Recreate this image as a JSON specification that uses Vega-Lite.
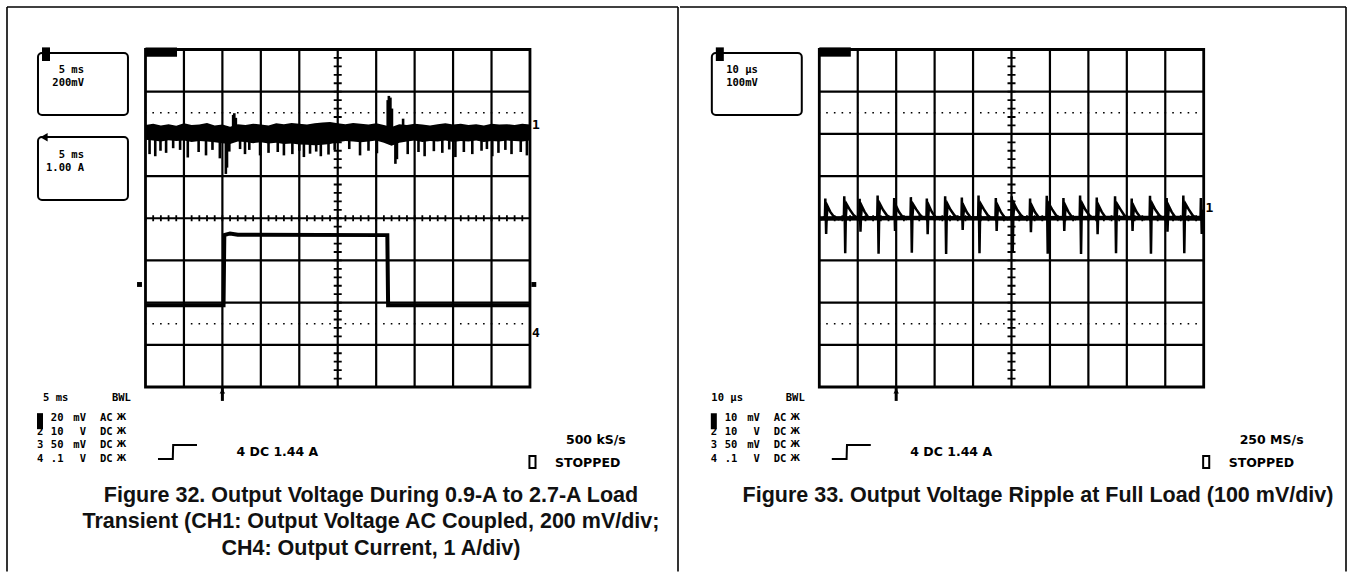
{
  "$schema": "https://vega.github.io/schema/vega-lite/v6.json",
  "background": "white",
  "padding": {"left": 6, "top": 6, "right": 6, "bottom": 0},
  "spacing": 0,
  "config": {"view": {"stroke": null}},
  "datasets": {
    "ch1L_band": [{"t":0,"v":2.21,"v2":1.86},{"t":1,"v":2.24,"v2":1.84},{"t":2,"v":2.20,"v2":1.82},{"t":3,"v":2.23,"v2":1.85},{"t":4,"v":2.19,"v2":1.83},{"t":5,"v":2.25,"v2":1.84},{"t":6,"v":2.21,"v2":1.81},{"t":7,"v":2.22,"v2":1.83},{"t":8,"v":2.26,"v2":1.82},{"t":9,"v":2.20,"v2":1.80},{"t":10,"v":2.22,"v2":1.78},{"t":11,"v":2.17,"v2":1.76},{"t":12,"v":2.23,"v2":1.82},{"t":13,"v":2.21,"v2":1.81},{"t":14,"v":2.24,"v2":1.78},{"t":15,"v":2.22,"v2":1.80},{"t":16,"v":2.20,"v2":1.77},{"t":17,"v":2.25,"v2":1.79},{"t":18,"v":2.23,"v2":1.76},{"t":19,"v":2.26,"v2":1.77},{"t":20,"v":2.24,"v2":1.75},{"t":21,"v":2.22,"v2":1.74},{"t":22,"v":2.25,"v2":1.73},{"t":23,"v":2.27,"v2":1.74},{"t":24,"v":2.28,"v2":1.76},{"t":25,"v":2.25,"v2":1.80},{"t":26,"v":2.23,"v2":1.83},{"t":27,"v":2.26,"v2":1.82},{"t":28,"v":2.24,"v2":1.80},{"t":29,"v":2.22,"v2":1.82},{"t":30,"v":2.25,"v2":1.84},{"t":31,"v":2.21,"v2":1.79},{"t":32,"v":2.16,"v2":1.72},{"t":33,"v":2.23,"v2":1.79},{"t":34,"v":2.21,"v2":1.82},{"t":35,"v":2.24,"v2":1.84},{"t":36,"v":2.22,"v2":1.81},{"t":37,"v":2.20,"v2":1.83},{"t":38,"v":2.23,"v2":1.82},{"t":39,"v":2.25,"v2":1.84},{"t":40,"v":2.22,"v2":1.81},{"t":41,"v":2.24,"v2":1.83},{"t":42,"v":2.21,"v2":1.82},{"t":43,"v":2.23,"v2":1.84},{"t":44,"v":2.20,"v2":1.81},{"t":45,"v":2.24,"v2":1.83},{"t":46,"v":2.22,"v2":1.82},{"t":47,"v":2.23,"v2":1.84},{"t":48,"v":2.21,"v2":1.83},{"t":49,"v":2.24,"v2":1.82},{"t":50,"v":2.22,"v2":1.84}],
    "ch1L_spikes": [{"t":0.53,"v":1.9,"v2":1.52},{"t":1.27,"v":1.9,"v2":1.47},{"t":1.95,"v":1.9,"v2":1.60},{"t":2.68,"v":1.9,"v2":1.55},{"t":3.6,"v":1.9,"v2":1.66},{"t":4.5,"v":1.9,"v2":1.62},{"t":5.5,"v":1.9,"v2":1.44},{"t":6.91,"v":1.9,"v2":1.57},{"t":7.87,"v":1.9,"v2":1.49},{"t":8.71,"v":1.9,"v2":1.62},{"t":9.67,"v":1.9,"v2":1.42},{"t":10.45,"v":1.9,"v2":1.05},{"t":10.6,"v":1.9,"v2":1.2},{"t":10.9,"v":1.9,"v2":1.58},{"t":12.3,"v":1.9,"v2":1.64},{"t":12.94,"v":1.9,"v2":1.52},{"t":13.5,"v":1.9,"v2":1.62},{"t":14.9,"v":1.9,"v2":1.49},{"t":16.0,"v":1.9,"v2":1.55},{"t":17.2,"v":1.9,"v2":1.57},{"t":18.0,"v":1.9,"v2":1.49},{"t":19.1,"v":1.9,"v2":1.52},{"t":20.0,"v":1.9,"v2":1.6},{"t":20.6,"v":1.9,"v2":1.45},{"t":21.4,"v":1.9,"v2":1.53},{"t":22.2,"v":1.9,"v2":1.58},{"t":22.8,"v":1.9,"v2":1.47},{"t":23.8,"v":1.9,"v2":1.51},{"t":24.6,"v":1.9,"v2":1.62},{"t":26.5,"v":1.9,"v2":1.64},{"t":27.9,"v":1.9,"v2":1.49},{"t":29.0,"v":1.9,"v2":1.60},{"t":30.1,"v":1.9,"v2":1.54},{"t":32.5,"v":1.9,"v2":1.29},{"t":32.7,"v":1.9,"v2":1.4},{"t":34.1,"v":1.9,"v2":1.52},{"t":35.5,"v":1.9,"v2":1.57},{"t":36.3,"v":1.9,"v2":1.47},{"t":37.5,"v":1.9,"v2":1.59},{"t":38.6,"v":1.9,"v2":1.55},{"t":39.5,"v":1.9,"v2":1.63},{"t":40.3,"v":1.9,"v2":1.45},{"t":41.4,"v":1.9,"v2":1.57},{"t":42.5,"v":1.9,"v2":1.52},{"t":43.7,"v":1.9,"v2":1.60},{"t":44.4,"v":1.9,"v2":1.64},{"t":45.1,"v":1.9,"v2":1.47},{"t":45.9,"v":1.9,"v2":1.55},{"t":46.8,"v":1.9,"v2":1.62},{"t":47.6,"v":1.9,"v2":1.52},{"t":48.8,"v":1.9,"v2":1.57},{"t":49.6,"v":1.9,"v2":1.49},{"t":11.4,"v":2.1,"v2":2.45},{"t":11.55,"v":2.1,"v2":2.49},{"t":11.75,"v":2.1,"v2":2.38},{"t":31.5,"v":2.1,"v2":2.80},{"t":31.65,"v":2.1,"v2":2.90},{"t":31.85,"v":2.1,"v2":2.86},{"t":32.05,"v":2.1,"v2":2.60},{"t":33.5,"v":2.1,"v2":2.36}],
    "ch4L": [{"t":0,"v":-2.06},{"t":10.15,"v":-2.06},{"t":10.25,"v":-0.40},{"t":11.0,"v":-0.36},{"t":12.0,"v":-0.39},{"t":31.45,"v":-0.40},{"t":31.55,"v":-2.06},{"t":50,"v":-2.06}],
    "ch1R_band": [{"t":0,"v":0.05,"v2":-0.06},{"t":25,"v":0.06,"v2":-0.05},{"t":50,"v":0.05,"v2":-0.06},{"t":75,"v":0.06,"v2":-0.05},{"t":100,"v":0.06,"v2":-0.06}],
    "ch1R": [
      {"t":0,"v":0.01},{"t":0.6,"v":-0.02},
      {"t":1.21,"v":0.02},{"t":1.46,"v":0.0},{"t":1.56,"v":0.47},{"t":1.68,"v":0.05},{"t":1.78,"v":-0.37},{"t":1.91,"v":0.02},{"t":2.16,"v":0.28},{"t":2.86,"v":0.15},{"t":3.76,"v":0.04},
      {"t":5.0,"v":-0.02},
      {"t":6.14,"v":0.03},{"t":6.39,"v":0.0},{"t":6.49,"v":0.52},{"t":6.61,"v":0.08},{"t":6.74,"v":-0.83},{"t":6.89,"v":0.02},{"t":7.14,"v":0.33},{"t":7.89,"v":0.21},{"t":8.89,"v":0.08},{"t":9.69,"v":0.02},
      {"t":10.14,"v":0.0},{"t":10.39,"v":-0.02},{"t":10.49,"v":0.46},{"t":10.61,"v":0.05},{"t":10.71,"v":-0.32},{"t":10.84,"v":0.02},{"t":11.09,"v":0.28},{"t":11.79,"v":0.15},{"t":12.69,"v":0.03},
      {"t":13.9,"v":-0.02},
      {"t":14.82,"v":0.02},{"t":15.07,"v":0.0},{"t":15.17,"v":0.54},{"t":15.29,"v":0.08},{"t":15.42,"v":-0.84},{"t":15.57,"v":0.02},{"t":15.82,"v":0.33},{"t":16.57,"v":0.20},{"t":17.57,"v":0.07},{"t":18.37,"v":0.01},
      {"t":19.13,"v":0.01},{"t":19.38,"v":-0.01},{"t":19.48,"v":0.48},{"t":19.60,"v":0.05},{"t":19.70,"v":-0.30},{"t":19.83,"v":0.02},{"t":20.08,"v":0.27},{"t":20.78,"v":0.14},{"t":21.68,"v":0.03},
      {"t":22.6,"v":-0.02},
      {"t":23.47,"v":0.02},{"t":23.72,"v":0.0},{"t":23.82,"v":0.50},{"t":23.94,"v":0.08},{"t":24.07,"v":-0.82},{"t":24.22,"v":0.02},{"t":24.47,"v":0.32},{"t":25.22,"v":0.21},{"t":26.22,"v":0.08},{"t":27.02,"v":0.01},
      {"t":27.62,"v":0.0},{"t":27.87,"v":-0.02},{"t":27.97,"v":0.47},{"t":28.09,"v":0.05},{"t":28.19,"v":-0.38},{"t":28.32,"v":0.02},{"t":28.57,"v":0.29},{"t":29.27,"v":0.15},{"t":30.17,"v":0.03},
      {"t":31.3,"v":-0.02},
      {"t":32.39,"v":0.02},{"t":32.64,"v":0.0},{"t":32.74,"v":0.52},{"t":32.86,"v":0.08},{"t":32.99,"v":-0.85},{"t":33.14,"v":0.02},{"t":33.39,"v":0.33},{"t":34.14,"v":0.20},{"t":35.14,"v":0.07},{"t":35.94,"v":0.01},
      {"t":36.73,"v":0.0},{"t":36.98,"v":-0.01},{"t":37.08,"v":0.49},{"t":37.20,"v":0.05},{"t":37.30,"v":-0.28},{"t":37.43,"v":0.02},{"t":37.68,"v":0.27},{"t":38.38,"v":0.14},{"t":39.28,"v":0.03},
      {"t":40.2,"v":-0.02},
      {"t":41.07,"v":0.02},{"t":41.32,"v":0.0},{"t":41.42,"v":0.54},{"t":41.54,"v":0.08},{"t":41.67,"v":-0.83},{"t":41.82,"v":0.02},{"t":42.07,"v":0.33},{"t":42.82,"v":0.21},{"t":43.82,"v":0.07},{"t":44.62,"v":0.01},
      {"t":45.57,"v":0.0},{"t":45.82,"v":-0.02},{"t":45.92,"v":0.48},{"t":46.04,"v":0.05},{"t":46.14,"v":-0.30},{"t":46.27,"v":0.02},{"t":46.52,"v":0.28},{"t":47.22,"v":0.15},{"t":48.12,"v":0.03},
      {"t":49.0,"v":-0.02},
      {"t":49.72,"v":0.02},{"t":49.97,"v":0.0},{"t":50.07,"v":0.52},{"t":50.19,"v":0.08},{"t":50.32,"v":-0.82},{"t":50.47,"v":0.02},{"t":50.72,"v":0.34},{"t":51.47,"v":0.20},{"t":52.47,"v":0.07},{"t":53.27,"v":0.01},
      {"t":54.48,"v":0.0},{"t":54.73,"v":-0.01},{"t":54.83,"v":0.47},{"t":54.95,"v":0.05},{"t":55.05,"v":-0.33},{"t":55.18,"v":0.02},{"t":55.43,"v":0.27},{"t":56.13,"v":0.14},{"t":57.03,"v":0.03},
      {"t":57.9,"v":-0.02},
      {"t":58.82,"v":0.02},{"t":59.07,"v":0.0},{"t":59.17,"v":0.53},{"t":59.29,"v":0.08},{"t":59.42,"v":-0.84},{"t":59.57,"v":0.02},{"t":59.82,"v":0.33},{"t":60.57,"v":0.21},{"t":61.57,"v":0.07},{"t":62.37,"v":0.01},
      {"t":63.16,"v":0.0},{"t":63.41,"v":-0.02},{"t":63.51,"v":0.48},{"t":63.63,"v":0.05},{"t":63.73,"v":-0.30},{"t":63.86,"v":0.02},{"t":64.11,"v":0.28},{"t":64.81,"v":0.15},{"t":65.71,"v":0.03},
      {"t":66.6,"v":-0.02},
      {"t":67.49,"v":0.02},{"t":67.74,"v":0.0},{"t":67.84,"v":0.54},{"t":67.96,"v":0.08},{"t":68.09,"v":-0.85},{"t":68.24,"v":0.02},{"t":68.49,"v":0.33},{"t":69.24,"v":0.20},{"t":70.24,"v":0.07},{"t":71.04,"v":0.01},
      {"t":71.83,"v":0.0},{"t":72.08,"v":-0.01},{"t":72.18,"v":0.49},{"t":72.30,"v":0.05},{"t":72.40,"v":-0.38},{"t":72.53,"v":0.02},{"t":72.78,"v":0.28},{"t":73.48,"v":0.15},{"t":74.38,"v":0.03},
      {"t":75.5,"v":-0.02},
      {"t":76.59,"v":0.02},{"t":76.84,"v":0.0},{"t":76.94,"v":0.52},{"t":77.06,"v":0.08},{"t":77.19,"v":-0.83},{"t":77.34,"v":0.02},{"t":77.59,"v":0.32},{"t":78.34,"v":0.21},{"t":79.34,"v":0.07},{"t":80.14,"v":0.01},
      {"t":80.92,"v":0.0},{"t":81.17,"v":-0.02},{"t":81.27,"v":0.47},{"t":81.39,"v":0.05},{"t":81.49,"v":-0.30},{"t":81.62,"v":0.02},{"t":81.87,"v":0.27},{"t":82.57,"v":0.14},{"t":83.47,"v":0.03},
      {"t":84.5,"v":-0.02},
      {"t":85.68,"v":0.02},{"t":85.93,"v":0.0},{"t":86.03,"v":0.53},{"t":86.15,"v":0.08},{"t":86.28,"v":-0.84},{"t":86.43,"v":0.02},{"t":86.68,"v":0.33},{"t":87.43,"v":0.20},{"t":88.43,"v":0.07},{"t":89.23,"v":0.01},
      {"t":90.01,"v":0.0},{"t":90.26,"v":-0.01},{"t":90.36,"v":0.48},{"t":90.48,"v":0.05},{"t":90.58,"v":-0.32},{"t":90.71,"v":0.02},{"t":90.96,"v":0.28},{"t":91.66,"v":0.15},{"t":92.56,"v":0.03},
      {"t":93.5,"v":-0.02},
      {"t":94.35,"v":0.02},{"t":94.60,"v":0.0},{"t":94.70,"v":0.54},{"t":94.82,"v":0.08},{"t":94.95,"v":-0.83},{"t":95.10,"v":0.02},{"t":95.35,"v":0.33},{"t":96.10,"v":0.21},{"t":97.10,"v":0.07},{"t":97.90,"v":0.01},
      {"t":98.92,"v":0.0},{"t":99.17,"v":-0.02},{"t":99.27,"v":0.48},{"t":99.39,"v":0.05},{"t":99.49,"v":-0.37},{"t":99.62,"v":0.02},{"t":99.85,"v":0.2},{"t":100.0,"v":0.15}
    ]
  },
  "hconcat": [
    {
      "width": 672,
      "height": 567,
      "encoding": {
        "x": {"field": "t", "type": "quantitative", "scale": {"domain": [-18.14, 69.25], "nice": false, "zero": false}, "axis": null},
        "y": {"field": "v", "type": "quantitative", "scale": {"domain": [-8.409, 5.031], "nice": false, "zero": false}, "axis": null}
      },
      "layer": [
        {"data": {"values": [{"t": -18.01, "t2": -18.01, "v": 5.007, "v2": -8.373}, {"t": -18.01, "t2": 69.25, "v": 5.007, "v2": 5.007}, {"t": 69.25, "t2": 69.25, "v": 5.007, "v2": -8.373}]},
         "mark": {"type": "rule", "color": "black", "strokeWidth": 1.6},
         "encoding": {"x2": {"field": "t2"}, "y2": {"field": "v2"}}},
        {"data": {"values": [{"t":5,"t2":5,"v":-4,"v2":4},{"t":10,"t2":10,"v":-4,"v2":4},{"t":15,"t2":15,"v":-4,"v2":4},{"t":20,"t2":20,"v":-4,"v2":4},{"t":25,"t2":25,"v":-4,"v2":4},{"t":30,"t2":30,"v":-4,"v2":4},{"t":35,"t2":35,"v":-4,"v2":4},{"t":40,"t2":40,"v":-4,"v2":4},{"t":45,"t2":45,"v":-4,"v2":4},{"t":0,"t2":50,"v":-3,"v2":-3},{"t":0,"t2":50,"v":-2,"v2":-2},{"t":0,"t2":50,"v":-1,"v2":-1},{"t":0,"t2":50,"v":0,"v2":0},{"t":0,"t2":50,"v":1,"v2":1},{"t":0,"t2":50,"v":2,"v2":2},{"t":0,"t2":50,"v":3,"v2":3}]},
         "mark": {"type": "rule", "color": "black", "strokeWidth": 2.2},
         "encoding": {"x2": {"field": "t2"}, "y2": {"field": "v2"}}},
        {"data": {"values": [{"t": 0, "t2": 50, "v": -4, "v2": 4}]},
         "mark": {"type": "rect", "filled": false, "stroke": "black", "strokeWidth": 2.8},
         "encoding": {"x2": {"field": "t2"}, "y2": {"field": "v2"}}},
        {"data": {"values": [{"t": 0, "t2": 50, "v": 2.5, "v2": 2.5}, {"t": 0, "t2": 50, "v": -2.5, "v2": -2.5}]},
         "mark": {"type": "rule", "color": "black", "strokeWidth": 1.6, "strokeDash": [1.6, 6.09], "strokeDashOffset": 0.8},
         "encoding": {"x2": {"field": "t2"}, "y2": {"field": "v2"}}},
        {"data": {"values": [{"t": 25, "t2": 25, "v": -4, "v2": 4}]},
         "mark": {"type": "rule", "color": "black", "strokeWidth": 8, "strokeDash": [1.8, 6.638], "strokeDashOffset": 0.9},
         "encoding": {"x2": {"field": "t2"}, "y2": {"field": "v2"}}},
        {"data": {"values": [{"t": 0, "t2": 50, "v": 0, "v2": 0}]},
         "mark": {"type": "rule", "color": "black", "strokeWidth": 6, "strokeDash": [1.8, 5.89], "strokeDashOffset": 0.9},
         "encoding": {"x2": {"field": "t2"}, "y2": {"field": "v2"}}},
        {"data": {"name": "ch1L_band"},
         "mark": {"type": "area", "color": "black", "opacity": 1},
         "encoding": {"y2": {"field": "v2"}}},
        {"data": {"name": "ch1L_spikes"},
         "mark": {"type": "rule", "color": "black", "strokeWidth": 2.6},
         "encoding": {"y2": {"field": "v2"}}},
        {"data": {"name": "ch4L"},
         "mark": {"type": "line", "color": "black", "strokeWidth": 4, "strokeJoin": "miter"},
         "encoding": {}},
        {"data": {"values": [{"t": -14.11, "t2": -13.33, "v": -4.62, "v2": -5.0}, {"t": -13.46, "t2": -12.42, "v": 4.05, "v2": 3.727}, {"t": 0, "t2": 4.1, "v": 4.05, "v2": 3.83}]},
         "mark": {"type": "rect", "color": "black"},
         "encoding": {"x2": {"field": "t2"}, "y2": {"field": "v2"}}},
        {"data": {"values": [{"t": -13.98, "t2": -2.28, "v": 3.917, "v2": 2.447}, {"t": -13.98, "t2": -2.28, "v": 1.926, "v2": 0.433}]},
         "mark": {"type": "rect", "filled": false, "stroke": "black", "strokeWidth": 2, "cornerRadius": 4},
         "encoding": {"x2": {"field": "t2"}, "y2": {"field": "v2"}}},
        {"data": {"values": [{"t": 49.93, "t2": 50.72, "v": -5.635, "v2": -5.92}]},
         "mark": {"type": "rect", "filled": false, "stroke": "black", "strokeWidth": 2},
         "encoding": {"x2": {"field": "t2"}, "y2": {"field": "v2"}}},
        {"data": {"values": [{"t": -13.2, "v": 1.92}]},
         "mark": {"type": "point", "shape": "triangle-left", "filled": true, "color": "black", "size": 70, "opacity": 1},
         "encoding": {}},
        {"data": {"values": [{"t": -0.78, "v": -1.57}, {"t": 50.5, "v": -1.57}]},
         "mark": {"type": "point", "shape": "square", "filled": true, "color": "black", "size": 24, "opacity": 1},
         "encoding": {}},
        {"data": {"values": [{"t": 10, "v": -4.0, "v2": -4.33}]},
         "mark": {"type": "rule", "color": "black", "strokeWidth": 3},
         "encoding": {"y2": {"field": "v2"}}},
        {"data": {"values": [{"t": 10, "v": -4.1}]},
         "mark": {"type": "point", "shape": "triangle-up", "filled": true, "color": "black", "size": 30, "opacity": 1},
         "encoding": {}},
        {"data": {"values": [{"t": 1.625, "v": -5.707}, {"t": 3.55, "v": -5.707}, {"t": 3.6, "v": -5.375}, {"t": 6.697, "v": -5.375}]},
         "mark": {"type": "line", "color": "black", "strokeWidth": 2},
         "encoding": {}},
        {"data": {"values": [{"t": -8.0, "v": 3.514, "text": "5 ms"}, {"t": -8.0, "v": 3.206, "text": "200mV"}, {"t": -8.0, "v": 1.499, "text": "5 ms"}, {"t": -8.0, "v": 1.191, "text": "1.00 A"}, {"t": -10.66, "v": -4.746, "text": "20"}, {"t": -10.66, "v": -5.066, "text": "10"}, {"t": -10.66, "v": -5.386, "text": "50"}, {"t": -10.66, "v": -5.707, "text": ".1"}, {"t": -7.74, "v": -4.746, "text": "mV"}, {"t": -7.74, "v": -5.066, "text": "V"}, {"t": -7.74, "v": -5.386, "text": "mV"}, {"t": -7.74, "v": -5.707, "text": "V"}]},
         "mark": {"type": "text", "align": "right", "baseline": "middle", "font": "DejaVu Sans Mono", "fontWeight": "bold", "fontSize": 10.5, "color": "black"},
         "encoding": {"text": {"field": "text"}}},
        {"data": {"values": [{"t": -13.33, "v": -4.261, "text": "5 ms"}, {"t": -4.36, "v": -4.261, "text": "BWL"}, {"t": -14.11, "v": -5.066, "text": "2"}, {"t": -14.11, "v": -5.386, "text": "3"}, {"t": -14.11, "v": -5.707, "text": "4"}, {"t": -5.92, "v": -4.746, "text": "AC"}, {"t": -5.92, "v": -5.066, "text": "DC"}, {"t": -5.92, "v": -5.386, "text": "DC"}, {"t": -5.92, "v": -5.707, "text": "DC"}]},
         "mark": {"type": "text", "align": "left", "baseline": "middle", "font": "DejaVu Sans Mono", "fontWeight": "bold", "fontSize": 10.5, "color": "black"},
         "encoding": {"text": {"field": "text"}}},
        {"data": {"values": [{"t": -3.77, "v": -4.746, "text": "Ж"}, {"t": -3.77, "v": -5.066, "text": "Ж"}, {"t": -3.77, "v": -5.386, "text": "Ж"}, {"t": -3.77, "v": -5.707, "text": "Ж"}]},
         "mark": {"type": "text", "align": "left", "baseline": "middle", "font": "DejaVu Sans", "fontWeight": "bold", "fontSize": 8, "color": "black"},
         "encoding": {"text": {"field": "text"}}},
        {"data": {"values": [{"t": 11.83, "v": -5.54, "text": "4 DC 1.44 A"}, {"t": 54.68, "v": -5.256, "text": "500 kS/s"}, {"t": 53.25, "v": -5.8, "text": "STOPPED"}]},
         "mark": {"type": "text", "align": "left", "baseline": "middle", "font": "DejaVu Sans", "fontWeight": "bold", "fontSize": 12.5, "color": "black"},
         "encoding": {"text": {"field": "text"}}},
        {"data": {"values": [{"t": 50.25, "v": 2.2, "text": "1"}, {"t": 50.25, "v": -2.72, "text": "4"}]},
         "mark": {"type": "text", "align": "left", "baseline": "middle", "font": "DejaVu Sans Mono", "fontWeight": "bold", "fontSize": 13, "color": "black"},
         "encoding": {"text": {"field": "text"}}},
        {"data": {"values": [{"t": 29.32, "v": -6.725, "text": "Figure 32. Output Voltage During 0.9-A to 2.7-A Load"}, {"t": 29.32, "v": -7.354, "text": "Transient (CH1: Output Voltage AC Coupled, 200 mV/div;"}, {"t": 29.32, "v": -7.982, "text": "CH4: Output Current, 1 A/div)"}]},
         "mark": {"type": "text", "align": "center", "baseline": "alphabetic", "font": "Liberation Sans", "fontWeight": "bold", "fontSize": 21.5, "color": "#111111"},
         "encoding": {"text": {"field": "text"}}}
      ]
    },
    {
      "width": 667,
      "height": 567,
      "encoding": {
        "x": {"field": "t", "type": "quantitative", "scale": {"domain": [-36.24, 137.28], "nice": false, "zero": false}, "axis": null},
        "y": {"field": "v", "type": "quantitative", "scale": {"domain": [-8.409, 5.031], "nice": false, "zero": false}, "axis": null}
      },
      "layer": [
        {"data": {"values": [{"t": -36.24, "t2": 137.02, "v": 5.007, "v2": 5.007}, {"t": 137.02, "t2": 137.02, "v": 5.007, "v2": -8.373}]},
         "mark": {"type": "rule", "color": "black", "strokeWidth": 1.6},
         "encoding": {"x2": {"field": "t2"}, "y2": {"field": "v2"}}},
        {"data": {"values": [{"t":10,"t2":10,"v":-4,"v2":4},{"t":20,"t2":20,"v":-4,"v2":4},{"t":30,"t2":30,"v":-4,"v2":4},{"t":40,"t2":40,"v":-4,"v2":4},{"t":50,"t2":50,"v":-4,"v2":4},{"t":60,"t2":60,"v":-4,"v2":4},{"t":70,"t2":70,"v":-4,"v2":4},{"t":80,"t2":80,"v":-4,"v2":4},{"t":90,"t2":90,"v":-4,"v2":4},{"t":0,"t2":100,"v":-3,"v2":-3},{"t":0,"t2":100,"v":-2,"v2":-2},{"t":0,"t2":100,"v":-1,"v2":-1},{"t":0,"t2":100,"v":0,"v2":0},{"t":0,"t2":100,"v":1,"v2":1},{"t":0,"t2":100,"v":2,"v2":2},{"t":0,"t2":100,"v":3,"v2":3}]},
         "mark": {"type": "rule", "color": "black", "strokeWidth": 2.2},
         "encoding": {"x2": {"field": "t2"}, "y2": {"field": "v2"}}},
        {"data": {"values": [{"t": 0, "t2": 100, "v": -4, "v2": 4}]},
         "mark": {"type": "rect", "filled": false, "stroke": "black", "strokeWidth": 2.8},
         "encoding": {"x2": {"field": "t2"}, "y2": {"field": "v2"}}},
        {"data": {"values": [{"t": 0, "t2": 100, "v": 2.5, "v2": 2.5}, {"t": 0, "t2": 100, "v": -2.5, "v2": -2.5}]},
         "mark": {"type": "rule", "color": "black", "strokeWidth": 1.6, "strokeDash": [1.6, 6.09], "strokeDashOffset": 0.8},
         "encoding": {"x2": {"field": "t2"}, "y2": {"field": "v2"}}},
        {"data": {"values": [{"t": 50, "t2": 50, "v": -4, "v2": 4}]},
         "mark": {"type": "rule", "color": "black", "strokeWidth": 8, "strokeDash": [1.8, 6.638], "strokeDashOffset": 0.9},
         "encoding": {"x2": {"field": "t2"}, "y2": {"field": "v2"}}},
        {"data": {"values": [{"t": 0, "t2": 100, "v": 0, "v2": 0}]},
         "mark": {"type": "rule", "color": "black", "strokeWidth": 6, "strokeDash": [1.8, 5.89], "strokeDashOffset": 0.9},
         "encoding": {"x2": {"field": "t2"}, "y2": {"field": "v2"}}},
        {"data": {"name": "ch1R_band"},
         "mark": {"type": "area", "color": "black", "opacity": 1},
         "encoding": {"y2": {"field": "v2"}}},
        {"data": {"name": "ch1R"},
         "mark": {"type": "line", "color": "black", "strokeWidth": 2.5},
         "encoding": {}},
        {"data": {"values": [{"t": -28.22, "t2": -26.66, "v": -4.62, "v2": -5.0}, {"t": -26.92, "t2": -24.84, "v": 4.05, "v2": 3.727}, {"t": 0, "t2": 8.2, "v": 4.05, "v2": 3.83}]},
         "mark": {"type": "rect", "color": "black"},
         "encoding": {"x2": {"field": "t2"}, "y2": {"field": "v2"}}},
        {"data": {"values": [{"t": -27.96, "t2": -4.56, "v": 3.917, "v2": 2.447}]},
         "mark": {"type": "rect", "filled": false, "stroke": "black", "strokeWidth": 2, "cornerRadius": 4},
         "encoding": {"x2": {"field": "t2"}, "y2": {"field": "v2"}}},
        {"data": {"values": [{"t": 99.86, "t2": 101.44, "v": -5.635, "v2": -5.92}]},
         "mark": {"type": "rect", "filled": false, "stroke": "black", "strokeWidth": 2},
         "encoding": {"x2": {"field": "t2"}, "y2": {"field": "v2"}}},
        {"data": {"values": [{"t": 20, "v": -4.0, "v2": -4.33}]},
         "mark": {"type": "rule", "color": "black", "strokeWidth": 3},
         "encoding": {"y2": {"field": "v2"}}},
        {"data": {"values": [{"t": 20, "v": -4.1}]},
         "mark": {"type": "point", "shape": "triangle-up", "filled": true, "color": "black", "size": 30, "opacity": 1},
         "encoding": {}},
        {"data": {"values": [{"t": 3.25, "v": -5.707}, {"t": 7.1, "v": -5.707}, {"t": 7.2, "v": -5.375}, {"t": 13.39, "v": -5.375}]},
         "mark": {"type": "line", "color": "black", "strokeWidth": 2},
         "encoding": {}},
        {"data": {"values": [{"t": -16.0, "v": 3.514, "text": "10 µs"}, {"t": -16.0, "v": 3.206, "text": "100mV"}, {"t": -21.32, "v": -4.746, "text": "10"}, {"t": -21.32, "v": -5.066, "text": "10"}, {"t": -21.32, "v": -5.386, "text": "50"}, {"t": -21.32, "v": -5.707, "text": ".1"}, {"t": -15.48, "v": -4.746, "text": "mV"}, {"t": -15.48, "v": -5.066, "text": "V"}, {"t": -15.48, "v": -5.386, "text": "mV"}, {"t": -15.48, "v": -5.707, "text": "V"}]},
         "mark": {"type": "text", "align": "right", "baseline": "middle", "font": "DejaVu Sans Mono", "fontWeight": "bold", "fontSize": 10.5, "color": "black"},
         "encoding": {"text": {"field": "text"}}},
        {"data": {"values": [{"t": -28.08, "v": -4.261, "text": "10 µs"}, {"t": -8.72, "v": -4.261, "text": "BWL"}, {"t": -28.22, "v": -5.066, "text": "2"}, {"t": -28.22, "v": -5.386, "text": "3"}, {"t": -28.22, "v": -5.707, "text": "4"}, {"t": -11.84, "v": -4.746, "text": "AC"}, {"t": -11.84, "v": -5.066, "text": "DC"}, {"t": -11.84, "v": -5.386, "text": "DC"}, {"t": -11.84, "v": -5.707, "text": "DC"}]},
         "mark": {"type": "text", "align": "left", "baseline": "middle", "font": "DejaVu Sans Mono", "fontWeight": "bold", "fontSize": 10.5, "color": "black"},
         "encoding": {"text": {"field": "text"}}},
        {"data": {"values": [{"t": -7.54, "v": -4.746, "text": "Ж"}, {"t": -7.54, "v": -5.066, "text": "Ж"}, {"t": -7.54, "v": -5.386, "text": "Ж"}, {"t": -7.54, "v": -5.707, "text": "Ж"}]},
         "mark": {"type": "text", "align": "left", "baseline": "middle", "font": "DejaVu Sans", "fontWeight": "bold", "fontSize": 8, "color": "black"},
         "encoding": {"text": {"field": "text"}}},
        {"data": {"values": [{"t": 23.66, "v": -5.54, "text": "4 DC 1.44 A"}, {"t": 109.36, "v": -5.256, "text": "250 MS/s"}, {"t": 106.5, "v": -5.8, "text": "STOPPED"}]},
         "mark": {"type": "text", "align": "left", "baseline": "middle", "font": "DejaVu Sans", "fontWeight": "bold", "fontSize": 12.5, "color": "black"},
         "encoding": {"text": {"field": "text"}}},
        {"data": {"values": [{"t": 100.5, "v": 0.25, "text": "1"}]},
         "mark": {"type": "text", "align": "left", "baseline": "middle", "font": "DejaVu Sans Mono", "fontWeight": "bold", "fontSize": 13, "color": "black"},
         "encoding": {"text": {"field": "text"}}},
        {"data": {"values": [{"t": 56.89, "v": -6.725, "text": "Figure 33. Output Voltage Ripple at Full Load (100 mV/div)"}]},
         "mark": {"type": "text", "align": "center", "baseline": "alphabetic", "font": "Liberation Sans", "fontWeight": "bold", "fontSize": 21.5, "color": "#111111"},
         "encoding": {"text": {"field": "text"}}}
      ]
    }
  ]
}
